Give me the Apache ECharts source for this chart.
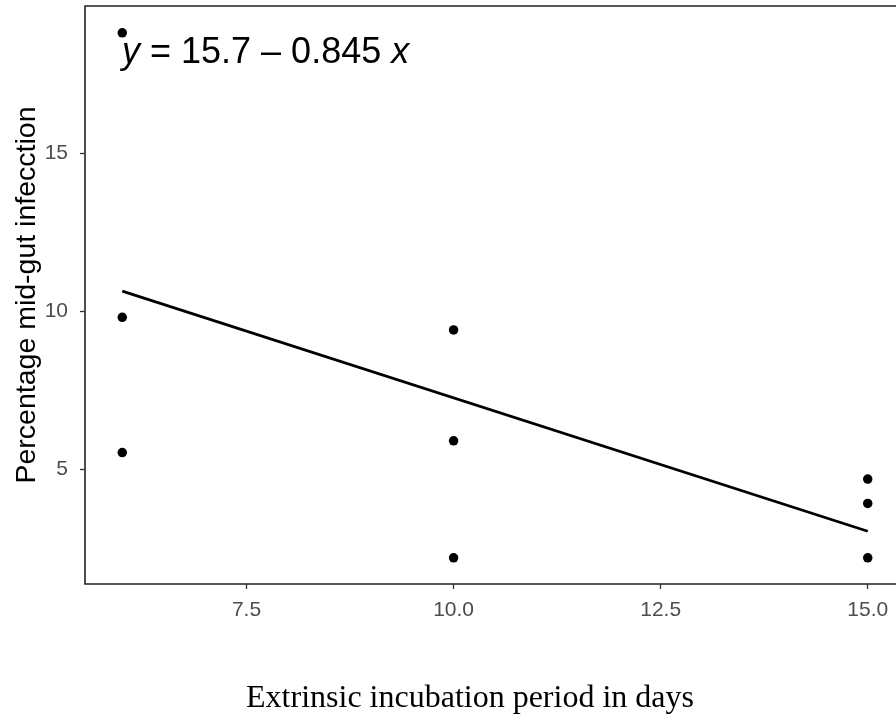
<!DOCTYPE html>
<html>
<head>
<meta charset="utf-8">
<script src="https://cdn.jsdelivr.net/npm/echarts@6/dist/echarts.min.js"></script>
<style>
html,body{margin:0;padding:0;background:#fff;overflow:hidden;width:896px;height:719px;}
#chart{width:930px;height:719px;}
</style>
</head>
<body>
<div id="chart"></div>
<script>
// Data
var pointsX = [6, 6, 6, 10, 10, 10, 15, 15, 15];
var pointsY = [18.8, 9.8, 5.52, 9.4, 5.89, 2.19, 4.68, 3.91, 2.19];
var fitX = [6, 15];
var fitY = [10.63, 3.03];
var xTicks = [7.5, 10, 12.5, 15];
var xTickLabels = ['7.5', '10.0', '12.5', '15.0'];
var yTicks = [5, 10, 15];
var yTickLabels = ['5', '10', '15'];
var xTitle = 'Extrinsic incubation period in days';
var yTitle = 'Percentage mid-gut infecction';

var chart = echarts.init(document.getElementById('chart'), null, {renderer: 'canvas'});

function lookup(ticks, labels) {
  return function (v) {
    for (var i = 0; i < ticks.length; i++) {
      if (Math.abs(ticks[i] - v) < 1e-6) return labels[i];
    }
    return '';
  };
}

var option = {
  animation: false,
  backgroundColor: '#ffffff',
  grid: {
    left: 85, top: 6, width: 820, height: 578,
    outerBoundsMode: 'none', containLabel: false,
    show: true, borderColor: '#222222', borderWidth: 1.6, backgroundColor: 'transparent'
  },
  xAxis: {
    type: 'value', min: 5.55, max: 15.45,
    axisLine: {show: false},
    splitLine: {show: false},
    axisTick: {show: true, length: 5, customValues: xTicks, lineStyle: {color: '#333333', width: 1.3}},
    axisLabel: {
      customValues: xTicks, formatter: lookup(xTicks, xTickLabels),
      color: '#4d4d4d', fontFamily: 'Liberation Sans, Arial, sans-serif', fontSize: 21, margin: 16
    }
  },
  yAxis: {
    type: 'value', min: 1.36, max: 19.65,
    axisLine: {show: false},
    splitLine: {show: false},
    axisTick: {show: true, length: 5, customValues: yTicks, lineStyle: {color: '#333333', width: 1.3}},
    axisLabel: {
      customValues: yTicks, formatter: lookup(yTicks, yTickLabels),
      color: '#4d4d4d', fontFamily: 'Liberation Sans, Arial, sans-serif', fontSize: 21, margin: 17
    },
    name: yTitle, nameLocation: 'middle', nameGap: 43, nameMoveOverlap: false,
    nameTextStyle: {color: '#000000', fontFamily: 'Liberation Sans, Arial, sans-serif', fontSize: 28.5}
  },
  series: [
    {
      type: 'line', data: fitX.map(function (x, i) { return [x, fitY[i]]; }),
      showSymbol: false, symbol: 'none',
      lineStyle: {color: '#000000', width: 2.8}, z: 2
    },
    {
      type: 'scatter', data: pointsX.map(function (x, i) { return [x, pointsY[i]]; }),
      symbol: 'circle', symbolSize: 9.5,
      itemStyle: {color: '#000000', opacity: 1}, z: 3
    }
  ],
  graphic: [
    {
      type: 'text', left: 122, top: 35, z: 10,
      style: {
        text: '{i|y} = 15.7 \u2013 0.845 {i|x}',
        fill: '#000000', fontFamily: 'Liberation Sans, Arial, sans-serif', fontSize: 36,
        rich: {i: {fontStyle: 'italic', fontFamily: 'Liberation Sans, Arial, sans-serif', fontSize: 36, fill: '#000000'}}
      }
    },
    {
      type: 'text', x: 470, y: 699, z: 10,
      style: {
        text: xTitle, fill: '#000000', fontFamily: 'Liberation Serif, Times New Roman, serif',
        fontSize: 32, align: 'center', verticalAlign: 'middle'
      }
    }
  ]
};
chart.setOption(option);
</script>
</body>
</html>
